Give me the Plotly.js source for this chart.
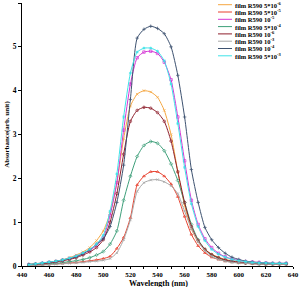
<!DOCTYPE html>
<html><head><meta charset="utf-8">
<script src="https://cdn.plot.ly/plotly-3.0.1.min.js"></script>
<style>html,body{margin:0;padding:0;background:#fff;}#chart{width:303px;height:287px;}</style>
</head><body><div id="chart"></div>
<script>
const wavelength = [445,450,455,460,465,470,475,480,485,490,495,500,505,510,515,520,525,530,535,540,545,550,555,560,565,570,575,580,585,590,595,600,605,610,615,620,625,630,635];

const seriesNames = ["film R590 5*10<sup>-6</sup>","film R590 5*10<sup>-5</sup>","film R590 10<sup>-5</sup>","film R590 5*10<sup>-4</sup>","film R590 10<sup>-6</sup>","film R590 10<sup>-3</sup>","film R590 10<sup>-4</sup>","film R590 5*10<sup>-3</sup>"];

const abs_5e6 = [0.03,0.05,0.06,0.08,0.11,0.14,0.19,0.25,0.32,0.42,0.58,0.8,1.2,1.9,2.9,3.65,3.92,4.0,3.97,3.85,3.55,3.0,2.15,1.38,0.85,0.55,0.38,0.27,0.2,0.15,0.12,0.1,0.08,0.07,0.06,0.05,0.05,0.05,0.05];
const abs_5e5 = [0.02,0.02,0.03,0.04,0.05,0.06,0.07,0.08,0.1,0.12,0.14,0.17,0.22,0.4,0.65,1.1,1.85,2.05,2.15,2.15,2.05,1.87,1.58,1.13,0.72,0.46,0.3,0.2,0.15,0.11,0.09,0.07,0.06,0.05,0.05,0.04,0.04,0.04,0.04];
const abs_1e5 = [0.03,0.04,0.06,0.08,0.1,0.13,0.17,0.22,0.28,0.36,0.47,0.65,1.15,1.9,3.1,4.15,4.75,4.88,4.9,4.85,4.65,4.25,3.4,2.4,1.5,0.95,0.62,0.42,0.29,0.21,0.16,0.13,0.1,0.09,0.08,0.07,0.06,0.06,0.06];
const abs_5e4 = [0.02,0.03,0.04,0.05,0.06,0.08,0.1,0.12,0.15,0.19,0.25,0.33,0.5,0.8,1.5,2.05,2.5,2.75,2.84,2.8,2.63,2.33,1.95,1.45,0.95,0.6,0.38,0.25,0.18,0.13,0.1,0.08,0.07,0.06,0.05,0.05,0.05,0.05,0.05];
const abs_1e6 = [0.02,0.04,0.05,0.07,0.09,0.12,0.15,0.19,0.25,0.32,0.42,0.6,1.0,1.65,2.55,3.3,3.55,3.62,3.6,3.5,3.3,2.85,2.15,1.45,0.9,0.58,0.38,0.26,0.19,0.14,0.11,0.09,0.07,0.06,0.05,0.05,0.05,0.05,0.05];
const abs_1e3 = [0.01,0.02,0.02,0.03,0.04,0.05,0.06,0.07,0.08,0.1,0.11,0.13,0.17,0.3,0.6,1.05,1.7,1.9,1.96,1.97,1.92,1.83,1.65,1.25,0.85,0.55,0.35,0.22,0.15,0.11,0.08,0.07,0.06,0.05,0.04,0.04,0.04,0.04,0.04];
const abs_1e4 = [0.04,0.05,0.07,0.09,0.11,0.14,0.17,0.21,0.28,0.37,0.5,0.62,0.9,1.45,2.3,3.8,5.2,5.4,5.47,5.42,5.3,5.0,4.35,3.4,2.2,1.45,0.88,0.6,0.42,0.29,0.2,0.15,0.11,0.09,0.08,0.07,0.06,0.06,0.06];
const abs_5e3 = [0.03,0.05,0.07,0.09,0.11,0.14,0.18,0.23,0.3,0.38,0.5,0.7,1.25,2.1,3.4,4.4,4.88,4.97,4.97,4.9,4.68,4.15,3.25,2.25,1.42,0.9,0.58,0.38,0.27,0.2,0.15,0.12,0.1,0.08,0.07,0.07,0.06,0.06,0.06];

const seriesValues = [abs_5e6, abs_5e5, abs_1e5, abs_5e4, abs_1e6, abs_1e3, abs_1e4, abs_5e3];
const colors = ["#F5A742","#E8412E","#D535D5","#3E9F7A","#8E1F2C","#A8A8A8","#3D5270","#3FE3E8"];
const symbols = ["x-thin-open","triangle-up-open","square-open","diamond-open","circle-open","x-thin-open","cross-thin-open","asterisk-open"];

const yTicks = [0,1,2,3,4,5,6];
const xTicks = [440,460,480,500,520,540,560,580,600,620,640];
const xTitle = "Wavelength (nm)";
const yTitle = "Absorbance(arb. unit)";

const FONT = "Liberation Serif, Times New Roman, serif";

const traces = seriesValues.map((v,i)=>({
  type:"scatter", mode:"lines+markers", x:wavelength, y:v, name:seriesNames[i],
  line:{color:colors[i], width:1, shape:"spline", smoothing:0.6},
  marker:{color:colors[i], size:2.5, symbol:symbols[i], line:{color:colors[i], width:0.7}},
  showlegend:false, hoverinfo:"skip"
}));

const L=22, R=10, T=3, B=21, W=303, H=287;
const pw=W-L-R, ph=H-T-B;
const annotations=[], shapes=[];
seriesNames.forEach((n,i)=>{
  const ypix = 4.7 + i*7.3;
  const yp = (H-B-ypix)/ph;
  shapes.push({type:"line", xref:"paper", yref:"paper", x0:(218-L)/pw, x1:(232-L)/pw, y0:yp, y1:yp, line:{color:colors[i], width:1}});
  annotations.push({xref:"paper", yref:"paper", x:(233-L)/pw, y:yp, xanchor:"left", yanchor:"middle", text:n, showarrow:false,
    font:{family:FONT, size:6.5, color:"#000", weight:"bold"}});
});
annotations.push({xref:"paper", yref:"paper", x:(158-L)/pw, y:-(283.5-(H-B))/ph, xanchor:"center", yanchor:"middle",
  text:xTitle, showarrow:false, font:{family:FONT, size:8, color:"#000", weight:"bold"}});

const layout = {
  width:W, height:H, margin:{l:L, r:R, t:T, b:B, autoexpand:false},
  paper_bgcolor:"#fff", plot_bgcolor:"#fff", showlegend:false,
  font:{family:FONT, color:"#000", weight:"bold"},
  xaxis:{range:[440,640], tickmode:"array", tickvals:xTicks, ticks:"outside", ticklen:2, tickwidth:1, tickcolor:"#000",
    minor:{dtick:10, ticks:"outside", ticklen:2, tickcolor:"#000"},
    showline:true, linecolor:"#000", linewidth:1, showgrid:false, zeroline:false, automargin:false,
    tickfont:{family:FONT, size:7, weight:"bold"}},
  yaxis:{range:[0,6], tickmode:"array", tickvals:yTicks, ticks:"outside", ticklen:3, tickwidth:1, tickcolor:"#000",
    showline:true, linecolor:"#000", linewidth:1, showgrid:false, zeroline:false, automargin:false,
    tickfont:{family:FONT, size:7.5, weight:"bold"},
    title:{text:yTitle, font:{family:FONT, size:7, weight:"bold"}, standoff:2}},
  annotations, shapes
};
Plotly.newPlot("chart", traces, layout, {staticPlot:true, displayModeBar:false});
</script></body></html>
